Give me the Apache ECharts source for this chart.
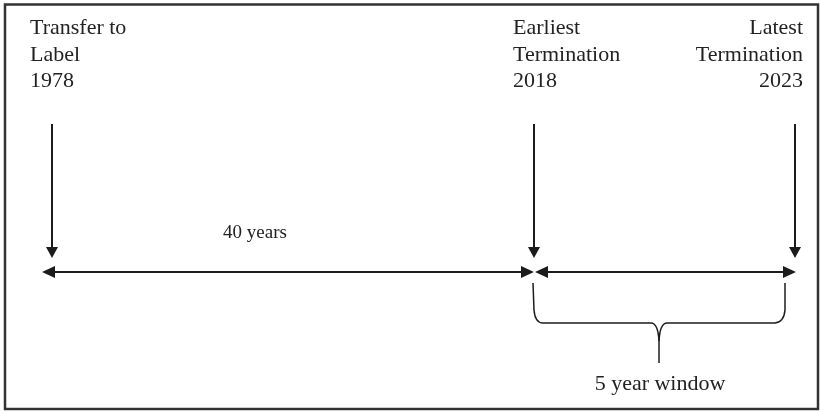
<!DOCTYPE html>
<html>
<head>
<meta charset="utf-8">
<script src="https://cdn.jsdelivr.net/npm/echarts@6/dist/echarts.min.js"></script>
<style>
  html, body { margin: 0; padding: 0; background: #fff; }
  #chart { width: 820px; height: 411px; }
</style>
</head>
<body>
<div id="chart"></div>
<script>
/* timeline data */
const eventYears = [1978, 2018, 2023];
const eventNames = ['Transfer to\nLabel', 'Earliest\nTermination', 'Latest\nTermination'];
const spanStart = [1978, 2018];
const spanEnd = [2018, 2023];
const spanNames = ['40 years', '5 year window'];

/* styles */
const ink = '#1c1c1c';
const serif = 'Liberation Serif';
const labelAlign = ['left', 'left', 'right'];
const labelShift = [-22, -21, 8];

const chart = echarts.init(document.getElementById('chart'), null, { renderer: 'canvas' });

/* vertical arrow + text block for one event */
function renderEvent(params, api) {
    const i = api.value(2);
    const x = api.coord([api.value(0), 0])[0];
    return {
        type: 'group',
        children: [
            { type: 'line', shape: { x1: x, y1: 124, x2: x, y2: 249 }, style: { stroke: ink, lineWidth: 2 } },
            { type: 'polygon', shape: { points: [[x - 6, 247], [x + 6, 247], [x, 258]] }, style: { fill: ink } },
            {
                type: 'text', x: x + labelShift[i], y: 55,
                style: {
                    text: eventNames[i] + '\n' + eventYears[i],
                    fontFamily: serif, fontSize: 22, fill: '#222',
                    align: labelAlign[i], verticalAlign: 'middle', lineHeight: 26.5
                }
            }
        ]
    };
}

/* double headed arrow (plus label / brace) for one span */
function renderSpan(params, api) {
    const i = api.value(2);
    const x1 = api.coord([api.value(0), 0])[0];
    const x2 = api.coord([api.value(1), 0])[0];
    const y = 272;
    const L = i === 0 ? x1 - 10 : x1 + 1;
    const R = i === 0 ? x2 : x2 + 1;
    const kids = [
        { type: 'line', shape: { x1: L + 8, y1: y, x2: R - 8, y2: y }, style: { stroke: ink, lineWidth: 2 } },
        { type: 'polygon', shape: { points: [[L, y], [L + 13, y - 6], [L + 13, y + 6]] }, style: { fill: ink } },
        { type: 'polygon', shape: { points: [[R, y], [R - 13, y - 6], [R - 13, y + 6]] }, style: { fill: ink } }
    ];
    if (i === 0) {
        kids.push({
            type: 'text', x: (x1 + x2) / 2 - 38, y: 233,
            style: { text: spanNames[i], fontFamily: serif, fontSize: 19, fill: '#222', align: 'center', verticalAlign: 'middle' }
        });
    } else {
        // curly brace under the window
        const bL = x1 - 1, bR = x2 - 10, c = (bL + bR) / 2;
        const st = { stroke: ink, lineWidth: 1.5, fill: null };
        kids.push(
            { type: 'line', shape: { x1: bL, y1: 283, x2: bL + 1, y2: 310 }, style: st },
            { type: 'bezierCurve', shape: { x1: bL + 1, y1: 310, cpx1: bL + 2, cpy1: 323, x2: bL + 10, y2: 323 }, style: st },
            { type: 'line', shape: { x1: bL + 10, y1: 323, x2: c - 8, y2: 323 }, style: st },
            { type: 'bezierCurve', shape: { x1: c - 8, y1: 323, cpx1: c - 1, cpy1: 323, x2: c, y2: 341 }, style: st },
            { type: 'bezierCurve', shape: { x1: c + 8, y1: 323, cpx1: c + 1, cpy1: 323, x2: c, y2: 341 }, style: st },
            { type: 'line', shape: { x1: c, y1: 341, x2: c, y2: 363 }, style: st },
            { type: 'line', shape: { x1: c + 8, y1: 323, x2: bR - 10, y2: 323 }, style: st },
            { type: 'bezierCurve', shape: { x1: bR - 10, y1: 323, cpx1: bR - 1, cpy1: 322, x2: bR, y2: 310 }, style: st },
            { type: 'line', shape: { x1: bR, y1: 310, x2: bR, y2: 283 }, style: st },
            {
                type: 'text', x: c + 1, y: 384,
                style: { text: spanNames[i], fontFamily: serif, fontSize: 22, fill: '#222', align: 'center', verticalAlign: 'middle' }
            }
        );
    }
    return { type: 'group', children: kids };
}

/* the picture is not to scale: two linear pieces, 1978-2018 and 2018-2023 */
const spanData = spanStart.map((s, i) => [s, spanEnd[i], i]);
const eventData = eventYears.map((y, i) => [y, 0, i]);

const option = {
    backgroundColor: '#fff',
    animation: false,
    grid: [
        { left: 52, width: 482, top: 0, height: 411 },
        { left: 534, width: 261, top: 0, height: 411 }
    ],
    xAxis: [
        { gridIndex: 0, type: 'value', min: spanStart[0], max: spanEnd[0], show: false },
        { gridIndex: 1, type: 'value', min: spanStart[1], max: spanEnd[1], show: false }
    ],
    yAxis: [
        { gridIndex: 0, type: 'value', min: 0, max: 1, show: false },
        { gridIndex: 1, type: 'value', min: 0, max: 1, show: false }
    ],
    graphic: [{
        type: 'rect', silent: true,
        shape: { x: 5, y: 4.5, width: 813, height: 404.5 },
        style: { fill: 'none', stroke: '#333', lineWidth: 2.5 }
    }],
    series: [
        {
            type: 'custom', xAxisIndex: 0, yAxisIndex: 0, silent: true, clip: false,
            data: eventData.filter(d => d[0] <= spanEnd[0]),
            renderItem: renderEvent
        },
        {
            type: 'custom', xAxisIndex: 1, yAxisIndex: 1, silent: true, clip: false,
            data: eventData.filter(d => d[0] > spanEnd[0]),
            renderItem: renderEvent
        },
        {
            type: 'custom', xAxisIndex: 0, yAxisIndex: 0, silent: true, clip: false,
            data: [spanData[0]],
            renderItem: renderSpan
        },
        {
            type: 'custom', xAxisIndex: 1, yAxisIndex: 1, silent: true, clip: false,
            data: [spanData[1]],
            renderItem: renderSpan
        }
    ]
};

chart.setOption(option);
</script>
</body>
</html>
